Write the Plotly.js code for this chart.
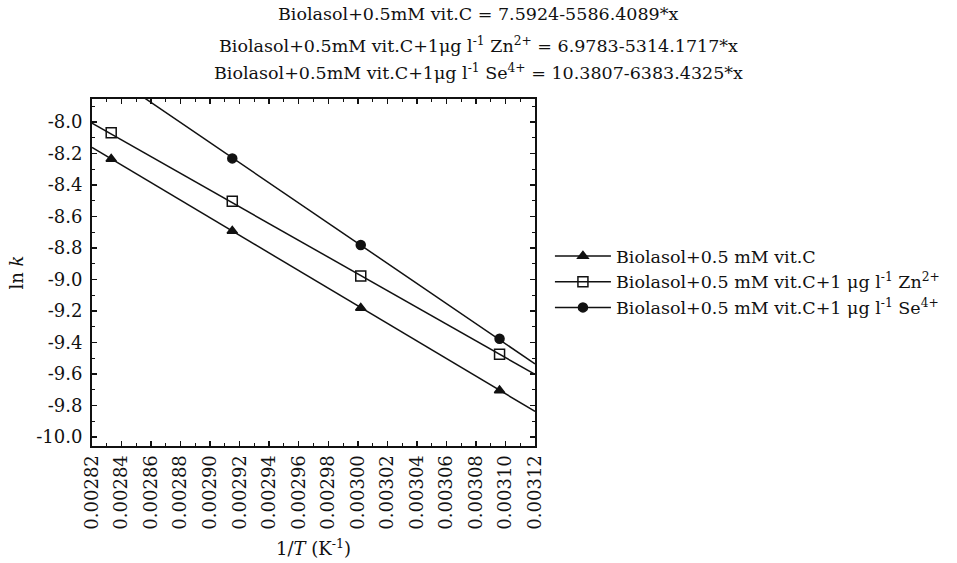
<!DOCTYPE html>
<html>
<head>
<meta charset="utf-8">
<script src="https://cdn.plot.ly/plotly-3.0.1.min.js"></script>
<style>html,body{margin:0;padding:0;background:#fff;}#chart{width:957px;height:563px;}</style>
</head>
<body>
<div id="chart"></div>
<script>
// ---- data ----
const seriesNames = [
  'Biolasol+0.5 mM vit.C',
  'Biolasol+0.5 mM vit.C+1 μg l<sup>-1</sup> Zn<sup>2+</sup>',
  'Biolasol+0.5 mM vit.C+1 μg l<sup>-1</sup> Se<sup>4+</sup>'
];
const vitCx = [0.002833, 0.002915, 0.003002, 0.003096];
const vitCy = [-8.235, -8.692, -9.181, -9.705];
const znX = [0.002833, 0.002915, 0.003002, 0.003096];
const znY = [-8.068, -8.503, -8.978, -9.474];
const seX = [0.002915, 0.003002, 0.003096];
const seY = [-8.231, -8.781, -9.376];
// regression lines from the chart header: y = a + b*x
const fitIntercepts = [7.5924, 6.9783, 10.3807];
const fitSlopes = [-5586.4089, -5314.1717, -6383.4325];
const equationLines = [
  'Biolasol+0.5mM vit.C = 7.5924-5586.4089*x',
  'Biolasol+0.5mM vit.C+1μg l<sup>-1</sup> Zn<sup>2+</sup> = 6.9783-5314.1717*x',
  'Biolasol+0.5mM vit.C+1μg l<sup>-1</sup> Se<sup>4+</sup> = 10.3807-6383.4325*x'
];
const xRange = [0.00282, 0.00312];
const yRange = [-10.057, -7.854];
const xTickVals = [0.00282,0.00284,0.00286,0.00288,0.00290,0.00292,0.00294,0.00296,0.00298,0.00300,0.00302,0.00304,0.00306,0.00308,0.00310,0.00312];
const xTickText = ['0.00282','0.00284','0.00286','0.00288','0.00290','0.00292','0.00294','0.00296','0.00298','0.00300','0.00302','0.00304','0.00306','0.00308','0.00310','0.00312'];
const yTickVals = [-8.0,-8.2,-8.4,-8.6,-8.8,-9.0,-9.2,-9.4,-9.6,-9.8,-10.0];
const yTickText = ['-8.0','-8.2','-8.4','-8.6','-8.8','-9.0','-9.2','-9.4','-9.6','-9.8','-10.0'];

// ---- build traces ----
const FONT = 'DejaVu Serif, Liberation Serif, serif';
const symbols = ['triangle-up', 'square-open', 'circle'];
const pts = [[vitCx, vitCy], [znX, znY], [seX, seY]];
const traces = [];
for (let i = 0; i < 3; i++) {
  traces.push({
    x: xRange,
    y: xRange.map(v => fitIntercepts[i] + fitSlopes[i] * v),
    mode: 'lines', line: {color: '#111', width: 1.5},
    showlegend: false, hoverinfo: 'skip'
  });
  traces.push({
    x: pts[i][0], y: pts[i][1], mode: 'markers',
    marker: {symbol: symbols[i], size: i === 1 ? 10 : 9, color: '#111', line: {color: '#111', width: 1.5}},
    showlegend: false, cliponaxis: true
  });
}
for (let i = 0; i < 3; i++) {
  traces.push({
    x: [null], y: [null], mode: 'lines+markers', name: seriesNames[i],
    line: {color: '#111', width: 1.5},
    marker: {symbol: symbols[i], size: i === 1 ? 10 : 9, color: '#111', line: {color: '#111', width: 1.5}}
  });
}

const L = 92, R = 537, T = 99, B = 446;
const pw = R - L, ph = B - T;
const annY = [14, 45, 72];
const annotations = equationLines.map((t, i) => ({
  text: t, xref: 'paper', yref: 'paper', x: (480 - L) / pw, y: (B - annY[i]) / ph,
  xanchor: 'center', yanchor: 'middle', showarrow: false,
  font: {family: FONT, size: 17.5, color: '#111'}
}));

const layout = {
  width: 957, height: 563,
  margin: {l: L, r: 957 - R, t: T, b: 563 - B},
  paper_bgcolor: '#fff', plot_bgcolor: '#fff',
  font: {family: FONT, color: '#111', size: 18},
  showlegend: true,
  legend: {x: (552 - L) / pw, y: (B - 282) / ph, xanchor: 'left', yanchor: 'middle',
           font: {family: FONT, size: 17.5, color: '#111'}, itemwidth: 56, bgcolor: 'rgba(0,0,0,0)'},
  annotations: annotations,
  xaxis: {
    range: xRange, tickmode: 'array', tickvals: xTickVals, ticktext: xTickText,
    tickangle: -90, ticks: 'inside', ticklen: 5, tickwidth: 1.5, tickcolor: '#111',
    minor: {ticks: 'inside', ticklen: 3, dtick: 0.00001, tick0: 0.00282, tickcolor: '#111', tickwidth: 1},
    showline: true, linecolor: '#111', linewidth: 2, mirror: 'allticks',
    showgrid: false, zeroline: false,
    tickfont: {family: FONT, size: 18, color: '#111'},
    title: {text: '1/<i>T</i> (K<sup>-1</sup>)', font: {family: FONT, size: 18, color: '#111'}, standoff: 14}
  },
  yaxis: {
    range: yRange, tickmode: 'array', tickvals: yTickVals, ticktext: yTickText,
    ticks: 'inside', ticklen: 5, tickwidth: 1.5, tickcolor: '#111',
    minor: {ticks: 'inside', ticklen: 3, dtick: 0.1, tick0: 0, tickcolor: '#111', tickwidth: 1},
    showline: true, linecolor: '#111', linewidth: 2, mirror: 'allticks',
    showgrid: false, zeroline: false, ticklabelstandoff: 4,
    tickfont: {family: FONT, size: 18, color: '#111'},
    title: {text: 'ln <i>k</i>', font: {family: FONT, size: 18, color: '#111'}, standoff: 8}
  }
};
Plotly.newPlot('chart', traces, layout, {displayModeBar: false, staticPlot: true});
</script>
</body>
</html>
